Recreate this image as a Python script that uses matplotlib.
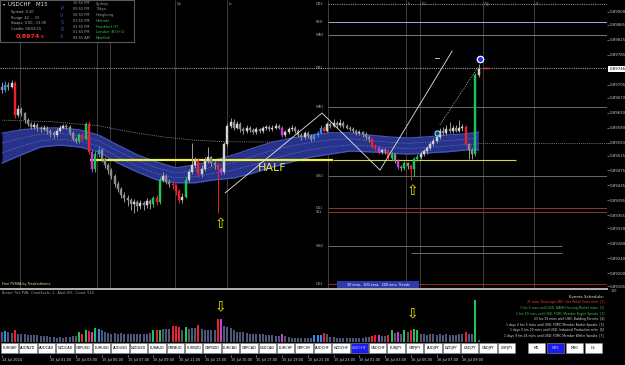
import matplotlib
matplotlib.use("Agg")
import matplotlib.pyplot as plt
import matplotlib.transforms as mtransforms
from matplotlib.patches import Rectangle
import numpy as np

# ---------------- data (prices in points: 0.89 + pts * 1e-5) ----------------
BASE = 0.89
SCALE = 1e-5

open_first = 700
closes = [690, 705, 700, 710, 624, 640, 628, 610, 600, 592,
          598, 588, 585, 590, 580, 575, 570, 582, 590, 595,
          592, 575, 560, 555, 570, 560, 600, 525, 478, 520,
          530, 505, 490, 475, 460, 440, 425, 410, 400, 395,
          385, 390, 380, 388, 383, 392, 385, 400, 390, 450,
          460, 445, 440, 435, 420, 395, 405, 450, 470, 490,
          500, 465, 480, 500, 510, 495, 490, 478, 470, 545,
          595, 605, 590, 600, 585, 580, 590, 583, 578, 585,
          580, 588, 592, 585, 590, 595, 590, 570, 578, 585,
          590, 580, 570, 565, 575, 568, 560, 570, 575, 590,
          582, 600, 595, 602, 596, 603, 595, 590, 586, 580,
          575, 578, 572, 566, 560, 540, 535, 525, 530, 528,
          508, 518, 500, 485, 482, 495, 488, 478, 505, 512,
          520, 526, 535, 545, 555, 565, 580, 575, 585, 580,
          590, 582, 588, 592, 545, 530, 520, 731, 746]
highs = [712, 715, 712, 718, 714, 650, 645, 632, 615, 606,
         604, 602, 594, 596, 594, 586, 580, 588, 596, 600,
         600, 596, 580, 566, 575, 576, 606, 608, 530, 528,
         540, 535, 512, 496, 482, 466, 448, 430, 418, 408,
         402, 398, 395, 396, 394, 400, 398, 406, 408, 458,
         470, 466, 452, 448, 440, 425, 414, 458, 480, 548,
         512, 508, 490, 510, 538, 515, 500, 496, 484, 552,
         602, 615, 612, 608, 604, 592, 596, 594, 588, 592,
         590, 594, 598, 596, 596, 602, 600, 594, 584, 592,
         596, 594, 585, 576, 580, 580, 572, 575, 582, 596,
         595, 606, 605, 612, 608, 614, 608, 600, 595, 592,
         585, 584, 582, 578, 570, 565, 546, 540, 536, 536,
         532, 524, 522, 505, 490, 500, 498, 492, 510, 518,
         526, 532, 540, 552, 562, 574, 588, 592, 596, 606,
         598, 596, 610, 600, 596, 548, 535, 735, 760]
lows = [682, 685, 692, 695, 615, 618, 620, 602, 594, 585,
        586, 582, 578, 580, 572, 566, 563, 566, 578, 585,
        586, 570, 553, 548, 550, 555, 556, 518, 470, 472,
        512, 498, 482, 466, 452, 432, 418, 400, 390, 380,
        370, 360, 366, 372, 368, 375, 372, 378, 382, 386,
        444, 438, 432, 426, 410, 388, 388, 400, 444, 465,
        482, 458, 458, 474, 494, 488, 478, 361, 462, 466,
        540, 590, 584, 585, 578, 574, 576, 578, 572, 574,
        575, 576, 584, 580, 582, 586, 585, 565, 566, 574,
        580, 575, 565, 558, 560, 562, 554, 556, 566, 572,
        578, 578, 590, 592, 590, 592, 590, 585, 580, 575,
        570, 570, 566, 560, 552, 535, 528, 518, 520, 520,
        502, 502, 494, 478, 474, 476, 480, 450, 460, 500,
        506, 514, 520, 530, 540, 550, 560, 570, 570, 575,
        575, 578, 578, 582, 540, 505, 505, 515, 725]
volumes = [500, 550, 480, 450, 600, 420, 400, 380, 370, 350,
           360, 330, 300, 320, 280, 250, 230, 220, 240, 220,
           250, 260, 280, 300, 500, 420, 600, 560, 520, 700,
           650, 620, 480, 450, 420, 440, 400, 430, 410, 420,
           400, 380, 400, 390, 380, 420, 450, 600, 600, 620,
           650, 640, 660, 800, 800, 750, 600, 750, 650, 700,
           700, 850, 650, 600, 620, 600, 580, 1150, 1150, 800,
           750, 700, 600, 520, 500, 480, 450, 420, 400, 380,
           400, 380, 350, 360, 330, 320, 300, 420, 280, 250,
           220, 200, 210, 200, 190, 200, 210, 330, 350, 340,
           450, 400, 250, 230, 210, 220, 200, 210, 200, 190,
           200, 210, 220, 230, 260, 320, 330, 360, 300, 320,
           360, 600, 450, 500, 420, 600, 500, 620, 650, 620,
           400, 380, 370, 390, 380, 370, 400, 360, 380, 350,
           370, 360, 380, 400, 520, 420, 400, 2100, 120]
red_idx = [4, 25, 27, 48, 53, 54, 55, 61, 67, 100, 115, 116, 120, 127, 144]
green_idx = [24, 26, 29, 47, 49, 57, 121, 125, 128, 129, 147]
blue_idx = [1, 30, 97, 98, 99]
purple_idx = [28, 68, 87, 117, 123]

band_idx = list(range(0, 145, 6)) + [148]
band_top = [575, 584, 589, 589, 584, 570, 543, 517, 498, 482,
            490, 503, 517, 535, 551, 562, 570, 576, 576, 570,
            565, 562, 565, 570, 573, 578]
band_bot = [495, 517, 538, 543, 538, 525, 495, 471, 450, 442,
            442, 450, 455, 468, 484, 498, 511, 519, 527, 525,
            522, 519, 522, 525, 530, 530]
ema_idx = [0, 15, 30, 40, 50, 60, 70, 148]
ema_pts = [610, 606, 595, 578, 565, 556, 552, 548]

session_idx = [5.6, 29.5, 33.5, 53.7, 69.9, 101.2, 125.5, 129.8, 149.4, 165.2]
session_lbl = ["", "", "", "Ny", "Lc", "", "F", "LO", "Ny", "LC"]

# pivot levels: name, pts, color, style, start idx, end idx
lvl_names = ["DR2", "R2H", "WR2", "DR1", "WR1", "WS1", "DS1", "S1L", "WS2", "", "DS2"]
lvl_pts = [921, 874, 838, 750, 645, 460, 375, 365, 273, 254, 171]
lvl_colors = ["#8a8a8a", "#a8a8e8", "#7a7a7a", "#9a9a9a", "#6a6a6a", "#6a6a6a",
              "#8a3a2a", "#8a3a2a", "#6a6a6a", "#6a6a6a", "#b02020"]
lvl_styles = [":", "-", "-", ":", "-", "-", "-", "-", "-", "-", "-"]
lvl_start = [101.2, 101.2, 101.2, -0.62, 101.2, 101.2, 101.2, 101.2, 101.2, 127.0, 101.2]
lvl_end = [187.9, 187.9, 187.9, 187.9, 187.9, 187.9, 187.9, 187.9, 174.0, 174.0, 187.9]

half_pts = 502
zz_idx = [69.3, 99.4, 117.4, 139.8]
zz_pts = [415, 629, 476, 795]
proj_idx = [136.0, 147.8]
proj_pts = [597, 752]

price_ticks = [900, 865, 825, 785, 705, 670, 630, 590, 550, 515, 475, 435,
               395, 355, 320, 280, 240, 200, 165]
current_pts = 746

time_idx = [0] + [15 + 8 * k for k in range(17)]
time_lbl = ["14 Jul 2024", "15 Jul 01:00", "15 Jul 03:00", "15 Jul 05:00", "15 Jul 07:00",
            "15 Jul 09:00", "15 Jul 11:00", "15 Jul 13:00", "15 Jul 15:00", "15 Jul 17:00",
            "15 Jul 19:00", "15 Jul 21:00", "15 Jul 23:00", "16 Jul 01:00", "16 Jul 03:00",
            "16 Jul 05:00", "16 Jul 07:00", "16 Jul 09:00"]

symbols = ["EURGBP", "AUDNZD", "AUDCAD", "NZDCAD", "GBPUSD", "EURUSD", "AUDUSD", "NZDUSD",
           "EURAUD", "GBPAUD", "EURNZD", "GBPNZD", "EURCAD", "GBPCAD", "USDCAD", "EURCHF",
           "GBPCHF", "AUDCHF", "NZDCHF", "USDCHF", "CADCHF", "EURJPY", "GBPJPY", "AUDJPY",
           "NZDJPY", "USDJPY", "CADJPY", "CHFJPY"]
timeframes = ["M5", "M15", "M30", "H1"]

events = ["25 mins 1hour ago USD: Core Retail Sales m/m  [1]",
          "1 hrs 5 mins until USD: NAHB Housing Market Index  [2]",
          "2 hrs 50 mins until USD: FOMC Member Kugler Speaks  [3]",
          "23 hrs 35 mins until USD: Building Permits  [4]",
          "1 days 0 hrs 5 mins until USD: FOMC Member Barkin Speaks  [5]",
          "1 days 0 hrs 20 mins until USD: Industrial Production m/m  [6]",
          "1 days 9 hrs 45 mins until USD: FOMC Member Waller Speaks  [7]"]
event_colors = ["#ff3b3b", "#3cc84a", "#3cc84a", "#e0e0e0", "#e0e0e0", "#e0e0e0", "#e0e0e0"]

clock_times = ["10:55 PM", "09:55 PM", "08:55 PM", "03:55 PM", "02:55 PM", "01:55 PM", "08:55 AM"]
clock_cities = ["Sydney", "Tokyo", "Hongkong", "Helsinki", "Frankfurt (F)", "London (B.O+1)", "NewYork"]
clock_colors = ["#a0a0a0", "#a0a0a0", "#a0a0a0", "#3cc84a", "#3cc84a", "#3cc84a", "#3cc84a"]


def P(v):
    return BASE + np.asarray(v, dtype=float) * SCALE


# ---------------- figure ----------------
PXW, PXH = 625, 365
fig = plt.figure(figsize=(6.25, 3.65), dpi=100, facecolor="black")


def box(x0, y0, x1, y1):
    return [x0 / PXW, 1 - y1 / PXH, (x1 - x0) / PXW, (y1 - y0) / PXH]


XLIM = (-0.62, 187.9)
ax = fig.add_axes(box(0, 0, 607, 288), facecolor="black")
axv = fig.add_axes(box(0, 290, 607, 342), facecolor="black")
axt = fig.add_axes(box(0, 354.5, 607, 355), facecolor="black")
for a in (ax, axv, axt):
    a.set_xlim(*XLIM)
    for s in a.spines.values():
        s.set_visible(False)
ax.set_ylim(0.89160, 0.89932)
axv.set_ylim(0, 2600)

n = len(closes)
idx = np.arange(n)
opens = [open_first] + closes[:-1]

NORMAL_UP, NORMAL_DN = "#d4d4d4", "#8c8c8c"
RED, GREEN, BLUE, PURPLE = "#e8232e", "#22c25a", "#2f8fe8", "#c83cd8"
VOL_NORMAL = "#4e5678"

body_c, wick_c, vol_c = [], [], []
for i in range(n):
    if i in red_idx:
        c = RED
    elif i in green_idx:
        c = GREEN
    elif i in blue_idx:
        c = BLUE
    elif i in purple_idx:
        c = PURPLE
    else:
        c = None
    if c is None:
        bc = NORMAL_UP if closes[i] >= opens[i] else NORMAL_DN
        body_c.append(bc)
        wick_c.append("#9a9a9a")
        vol_c.append(VOL_NORMAL)
    else:
        body_c.append(c)
        wick_c.append(c)
        vol_c.append(c)

trans_xa = mtransforms.blended_transform_factory(ax.transData, ax.transAxes)
trans_ay = mtransforms.blended_transform_factory(ax.transAxes, ax.transData)

# session lines
ax.vlines(session_idx, 0, 1, transform=trans_xa, color="#474747", lw=0.6, zorder=1)
for xi, lb in zip(session_idx, session_lbl):
    if lb:
        ax.text(xi + 0.5, 0.992, lb, transform=trans_xa, fontsize=2.6, color="#a0a0a0",
                ha="left", va="top", zorder=3)

# pivot levels
for nm, pt, col, st, x0, x1 in zip(lvl_names, lvl_pts, lvl_colors, lvl_styles, lvl_start, lvl_end):
    ax.hlines(P(pt), x0, x1, color=col, lw=0.7 if st == "-" else 0.8,
              linestyles=(0, (1, 1)) if st == ":" else "solid", zorder=1)
    if nm:
        ax.text(97.4, P(pt), nm, fontsize=2.6, color="#a8a8a8", ha="left", va="center", zorder=3)

# dotted slow ema + flat extension
ax.plot(ema_idx, P(ema_pts), color="#9a9a9a", lw=0.6, ls=(0, (1, 1.3)), zorder=1)
ax.hlines(P(ema_pts[-1]), ema_idx[-1], XLIM[1], color="#8a8a8a", lw=0.6,
          linestyles=(0, (1, 1.3)), zorder=1)

# ema band
bt, bb = P(band_top), P(band_bot)
ax.fill_between(band_idx, bt, bb, color="#27338a", lw=0, zorder=2)
ax.plot(band_idx, bt, color="#4656b8", lw=0.9, zorder=2)
ax.plot(band_idx, bb, color="#4656b8", lw=0.9, zorder=2)
for f in (0.33, 0.66):
    ax.plot(band_idx, bt + (bb - bt) * f, color="#7c8ad8", lw=0.5, ls=(0, (1, 1.5)), zorder=2)

# half line
ax.hlines(P(half_pts), 27.3, 102.8, color="#f2f23c", lw=1.6, zorder=3)
ax.hlines(P(half_pts), 102.8, 159.5, color="#d8d840", lw=0.8, zorder=3)
ax.text(79.5, P(483), "HALF", fontsize=8, color="#ecec44", ha="left", va="center", zorder=6)

# candles
ax.vlines(idx, P(lows), P(highs), colors=wick_c, lw=0.7, zorder=4)
ax.bar(idx, P(closes) - P(opens), bottom=P(opens), width=0.62, color=body_c,
       edgecolor=body_c, linewidth=0.3, zorder=5)

# zigzag / projection / markers
ax.plot(zz_idx, P(zz_pts), color="#e6e6e6", lw=0.6, zorder=6)
ax.plot(proj_idx, P(proj_pts), color="#d8d8d8", lw=0.6, ls=(0, (1, 1.5)), zorder=6)
ax.plot([134.4, 135.6], P([777, 777]), color="#e0e0e0", lw=0.6, zorder=6)
ax.plot([149.8, 150.8], P([750, 750]), color="#ff3030", lw=1.0, zorder=6)
ax.plot([148.4], P([774]), "o", ms=4.6, mfc="#2030ff", mec="white", mew=0.9, zorder=7)
ax.plot([135.1], P([576]), "o", ms=3.6, mfc="#1c3c66", mec="#6fd4ff", mew=0.9, zorder=7)

# arrows
ax.text(67.7, P(332), "\u21e7", fontsize=10, color="#f0f000", ha="center", va="center", zorder=7)
ax.text(127.6, P(421), "\u21e7", fontsize=10, color="#f0f000", ha="center", va="center", zorder=7)

# price axis
ax.yaxis.tick_right()
ax.set_yticks(P(price_ticks))
ax.set_yticklabels([f"{v:.5f}" for v in P(price_ticks)])
ax.tick_params(axis="y", colors="#c8c8c8", labelsize=2.8, length=1.5, width=0.4, pad=0.8)
ax.set_xticks([])
ax.text(1.004, P(current_pts), f"{P(current_pts):.5f}", transform=trans_ay, fontsize=2.8,
        color="black", ha="left", va="center",
        bbox=dict(boxstyle="square,pad=0.25", fc="white", ec="white", lw=0), zorder=8)

# volume panel
axv.bar(idx, volumes, width=0.62, color=vol_c, lw=0, zorder=3)
axv.set_xticks([])
axv.set_yticks([])
axv.text(67.7, 1780, "\u21e9", fontsize=10, color="#f0f000", ha="center", va="center", zorder=5)
axv.text(127.6, 1450, "\u21e9", fontsize=10, color="#f0f000", ha="center", va="center", zorder=5)

# time axis
axt.set_yticks([])
axt.set_xticks(time_idx)
axt.set_xticklabels(time_lbl)
axt.tick_params(axis="x", colors="#d8d8d8", labelsize=2.5, length=1.2, width=0.4, pad=0.6)
for lb in axt.get_xticklabels():
    lb.set_ha("left")

# ---------------- overlay (pixel coordinates) ----------------
ov = fig.add_axes([0, 0, 1, 1])
ov.set_xlim(0, PXW)
ov.set_ylim(PXH, 0)
ov.axis("off")
ov.patch.set_alpha(0)

ov.plot([0, 607], [288.8, 288.8], color="#b4b4b4", lw=1.4)
ov.text(2, 284.3, "Free PVSRA by Tradersthome", fontsize=2.4, color="#e4e4b4", va="center")
ov.text(2, 292.6, "Broker Tick PVA;  ChartScale: 1,  Alert:Off,  Count: 510", fontsize=2.4,
        color="#a8a8a8", va="center")
ov.add_patch(Rectangle((337, 281), 82, 7.5, fc="#2b3ba8", ec="none"))
ov.text(378, 284.8, "30 ema,  100 ema,  200 ema  Trends", fontsize=2.4, color="white",
        ha="center", va="center")
ov.text(611, 291.5, "100", fontsize=2.4, color="#c8c8c8", ha="left", va="center")

# info panel
ov.add_patch(Rectangle((0, 0), 134, 42, fc="black", ec="#5a5a5a", lw=0.8))
ov.text(2.5, 4.2, "\u25be", fontsize=3.2, color="#d0d0d0", va="center")
ov.text(8, 4.2, "USDCHF   M15", fontsize=4.0, color="#e6e6e6", va="center")
for k, t in enumerate(["Spread: 0.20", "Range: 42 ... 33", "Swaps: 0.00 : 13.00", "Candle: 00:04:15"]):
    ov.text(11, 12 + 5.7 * k, t, fontsize=2.5, color="#b4b4b4", va="center")
ov.text(16, 36.3, "0.8974", fontsize=4.6, color="#ff2a2a", fontweight="bold", va="center")
ov.text(40.5, 37.3, "6", fontsize=3.0, color="#ff2a2a", fontweight="bold", va="center")
for k, ch in enumerate("PVSRA"):
    ov.text(62, 8 + 7.2 * k, ch, fontsize=3.4, color="#3a58d0", ha="center", va="center")
for k, (tm, city, cc) in enumerate(zip(clock_times, clock_cities, clock_colors)):
    ov.text(73, 3.5 + 5.75 * k, tm, fontsize=2.5, color="#a0a0a0", va="center")
    ov.text(96, 3.5 + 5.75 * k, city, fontsize=2.5, color=cc, va="center")

# events schedule
ov.text(604, 296.5, "Events Schedule:", fontsize=2.9, color="#e8e8e8", ha="right", va="center")
for k, (ev, ec) in enumerate(zip(events, event_colors)):
    ov.text(604, 302.3 + 5.6 * k, ev, fontsize=2.2, color=ec, ha="right", va="center")

# symbol buttons
for k, s in enumerate(symbols):
    x0 = 1 + 18.4 * k
    sel = s == "USDCHF"
    ov.add_patch(Rectangle((x0, 343), 17.4, 10, fc="#1c1cf0" if sel else "white",
                           ec="#909090", lw=0.4))
    ov.text(x0 + 8.7, 348.2, s, fontsize=2.5, color="#c8c8ff" if sel else "black",
            ha="center", va="center")
tf_x = [528, 547, 566, 585]
for x0, tf in zip(tf_x, timeframes):
    sel = tf == "M15"
    ov.add_patch(Rectangle((x0, 343), 17, 10, fc="#1c1cf0" if sel else "white",
                           ec="#909090", lw=0.4))
    ov.text(x0 + 8.5, 348.2, tf, fontsize=2.6, color="#c8c8ff" if sel else "black",
            ha="center", va="center")

fig.savefig("out.png", dpi=100, facecolor="black")
